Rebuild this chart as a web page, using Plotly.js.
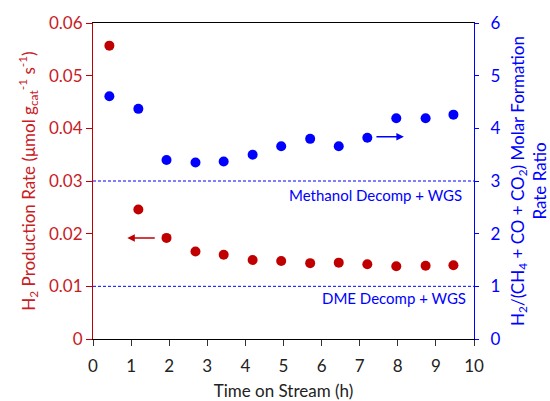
<!DOCTYPE html>
<html>
<head>
<meta charset="utf-8">
<script src="https://cdn.plot.ly/plotly-3.0.1.min.js"></script>
<style>html,body{margin:0;padding:0;background:#fff}#chart{width:550px;height:401px}</style>
</head>
<body>
<div id="chart"></div>
<script>
// Time on stream (h)
const timeH2 = [0.43, 1.19, 1.93, 2.69, 3.43, 4.19, 4.94, 5.70, 6.45, 7.20, 7.96, 8.73, 9.46];
// H2 production rate (umol g_cat^-1 s^-1)
const h2Rate = [0.0557, 0.0246, 0.0192, 0.0166, 0.0160, 0.0150, 0.0148, 0.0144, 0.0145, 0.0142, 0.0138, 0.0139, 0.0140];
const timeRatio = [0.43, 1.19, 1.93, 2.69, 3.43, 4.19, 4.94, 5.70, 6.45, 7.20, 7.96, 8.73, 9.46];
// H2/(CH4+CO+CO2) molar formation rate ratio
const ratio = [4.61, 4.37, 3.40, 3.35, 3.37, 3.50, 3.66, 3.80, 3.66, 3.82, 4.19, 4.19, 4.26];
// reference levels (right axis)
const refLevels = [3, 1];
const refLabels = ['Methanol Decomp + WGS', 'DME Decomp + WGS'];
// arrows: [tail x, head x, y]
const leftArrow = [1.66, 0.90, 0.0192];
const rightArrow = [7.40, 8.16, 3.84];

const RED = '#C00000';
const REDTXT = '#C8201F';
const BLUE = '#0000FF';
const FONT = 'Lato, "Open Sans", sans-serif';

const traces = [
  {x: timeH2, y: h2Rate, type: 'scatter', mode: 'markers', yaxis: 'y',
   marker: {color: RED, size: 10}, hoverinfo: 'skip'},
  {x: timeRatio, y: ratio, type: 'scatter', mode: 'markers', yaxis: 'y2',
   marker: {color: BLUE, size: 10}, hoverinfo: 'skip'}
];

const shapes = refLevels.map(v => ({
  type: 'line', xref: 'paper', x0: 0, x1: 1, yref: 'y2', y0: v, y1: v,
  line: {color: BLUE, width: 1, dash: '3px,2px'}
}));

const annotations = [
  {xref: 'paper', x: 0.975, yref: 'y2', y: refLevels[0], yshift: -14, xanchor: 'right', yanchor: 'middle',
   text: refLabels[0], showarrow: false, font: {family: FONT, size: 15, color: BLUE}},
  {xref: 'paper', x: 0.983, yref: 'y2', y: refLevels[1], yshift: -12, xanchor: 'right', yanchor: 'middle',
   text: refLabels[1], showarrow: false, font: {family: FONT, size: 15, color: BLUE}},
  {xref: 'x', yref: 'y', x: leftArrow[1], y: leftArrow[2], ax: leftArrow[0], ay: leftArrow[2],
   axref: 'x', ayref: 'y', text: '', showarrow: true, arrowhead: 2, arrowsize: 1, arrowwidth: 1.5, arrowcolor: RED},
  {xref: 'x', yref: 'y2', x: rightArrow[1], y: rightArrow[2], ax: rightArrow[0], ay: rightArrow[2],
   axref: 'x', ayref: 'y2', text: '', showarrow: true, arrowhead: 2, arrowsize: 1, arrowwidth: 1.5, arrowcolor: BLUE}
];

const layout = {
  width: 550, height: 401,
  margin: {l: 93, r: 76, t: 23, b: 62, pad: 0},
  paper_bgcolor: '#fff', plot_bgcolor: '#fff',
  showlegend: false,
  font: {family: FONT, size: 17, color: '#222'},
  xaxis: {
    range: [0, 10], dtick: 1, tick0: 0, showgrid: false, zeroline: false, automargin: false,
    showline: true, linecolor: '#000', linewidth: 1, mirror: true,
    ticks: 'outside', ticklen: 6, tickcolor: '#333', ticklabelstandoff: 6,
    tickfont: {family: FONT, size: 17, color: '#222'},
    title: {text: 'Time on Stream (h)', font: {family: FONT, size: 17, color: '#222'}, standoff: 10}
  },
  yaxis: {
    range: [0, 0.06], dtick: 0.01, tick0: 0, showgrid: false, zeroline: false, automargin: false,
    showline: true, linecolor: RED, linewidth: 1,
    ticks: 'outside', ticklen: 6, tickcolor: RED,
    tickfont: {family: FONT, size: 17, color: REDTXT},
    title: {text: 'H<sub>2</sub> Production Rate (μmol g<sub>cat</sub><sup>-1</sup> s<sup>-1</sup>)',
            font: {family: FONT, size: 17, color: REDTXT}, standoff: 9}
  },
  yaxis2: {
    overlaying: 'y', side: 'right', anchor: 'x', automargin: false,
    range: [0, 6], dtick: 1, tick0: 0, showgrid: false, zeroline: false,
    showline: true, linecolor: BLUE, linewidth: 1,
    ticks: 'outside', ticklen: 4, tickcolor: BLUE, ticklabelstandoff: 8,
    tickfont: {family: FONT, size: 17, color: BLUE},
    title: {text: 'H<sub>2</sub>/(CH<sub>4</sub> + CO + CO<sub>2</sub>) Molar Formation<br>Rate Ratio',
            font: {family: FONT, size: 17, color: BLUE}, standoff: 20}
  },
  shapes: shapes,
  annotations: annotations
};

Plotly.newPlot('chart', traces, layout, {displayModeBar: false, staticPlot: true});
</script>
</body>
</html>
